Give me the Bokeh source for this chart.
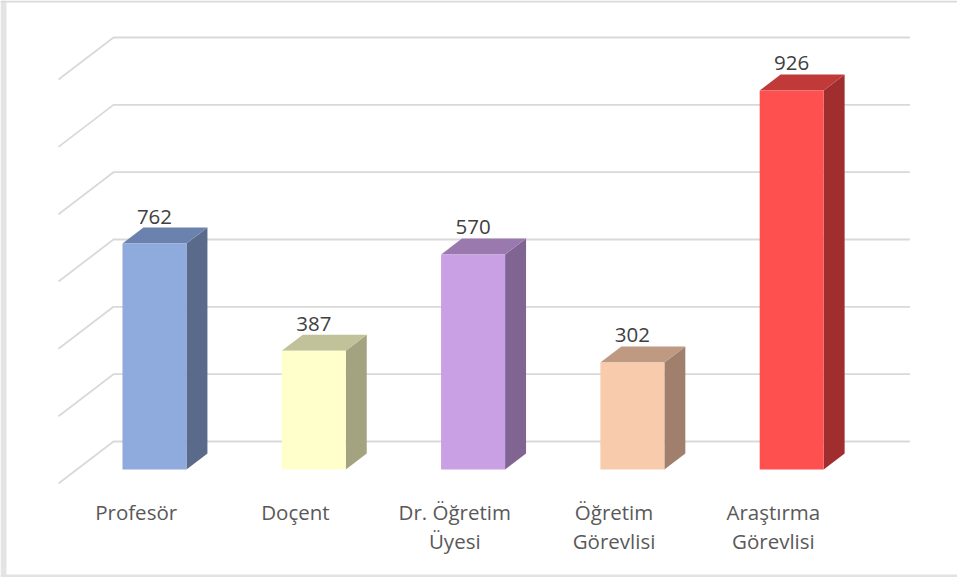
from bokeh.plotting import figure
from bokeh.models import Range1d, BoxAnnotation
from bokeh.core.properties import value
from bokeh.embed import file_html
from bokeh.resources import INLINE

# ---- data ----
categories = ["Profesör", "Doçent", "Dr. Öğretim\nÜyesi", "Öğretim\nGörevlisi", "Araştırma\nGörevlisi"]
bar_values = [671, 353, 639, 318, 1126]          # bar heights as drawn (hidden value axis)
label_values = ["762", "387", "570", "302", "926"]  # data labels as printed
grid_values = [0, 200, 400, 600, 800, 1000, 1200]

front_colors = ["#8FAADC", "#FFFFCC", "#C9A0E3", "#F8CBAD", "#FF5050"]
side_colors = ["#5A6A8A", "#A3A380", "#806491", "#A0806C", "#A02E2E"]
top_colors = ["#6C82AE", "#C2C29A", "#9A7AAE", "#BF9981", "#C03A3A"]

# ---- layout constants ----
W, H = 957, 577
U_PX = 159.3          # px per category
V_PX = 67.33 / 200    # px per value unit
ORIGIN_X = 113        # canvas px of back-wall left edge
BASE_Y = 441          # canvas px of back-wall baseline
DEPTH_X = 55 / U_PX
DEPTH_Y = 42 / V_PX
Z_FRONT = 28 / 42
Z_BACK = 12 / 42
BAR_W = 64 / U_PX
BAR_SHIFT = -2 / U_PX

p = figure(width=W, height=H, output_backend="svg", toolbar_location=None,
           x_range=Range1d(-ORIGIN_X / U_PX, (W - ORIGIN_X) / U_PX),
           y_range=Range1d(-(H - BASE_Y) / V_PX, BASE_Y / V_PX),
           min_border=0)
p.axis.visible = False
p.grid.visible = False
p.outline_line_color = None
p.background_fill_color = "white"
p.border_fill_color = "white"

# chart-area frame decorations (screen units)
p.add_layout(BoxAnnotation(left=0, right=6, top=0, bottom=H, left_units="screen", right_units="screen",
                           top_units="screen", bottom_units="screen",
                           fill_color="#E4E4E4", fill_alpha=1, line_color=None))
p.add_layout(BoxAnnotation(left=0, right=W, top=H - 2, bottom=H, left_units="screen", right_units="screen",
                           top_units="screen", bottom_units="screen",
                           fill_color="#D9D9D9", fill_alpha=1, line_color=None))
p.add_layout(BoxAnnotation(left=0, right=W, top=0, bottom=3, left_units="screen", right_units="screen",
                           top_units="screen", bottom_units="screen",
                           fill_color="#E2E2E2", fill_alpha=1, line_color=None))


def proj(u, v, z):
    return u - z * DEPTH_X, v - z * DEPTH_Y


# gridlines: back wall + side wall
n = len(categories)
gx, gy = [], []
for g in grid_values:
    x0, y0 = proj(0, g, 1)
    gx.append([x0, 0, n])
    gy.append([y0, g, g])
p.multi_line(gx, gy, line_color="#D9D9D9", line_width=1.8)

# bars
fx, fy, sx, sy, tx, ty = [], [], [], [], [], []
for i, v in enumerate(bar_values):
    c = i + 0.5 + BAR_SHIFT
    L, R = c - BAR_W / 2, c + BAR_W / 2
    Lf, b_f = proj(L, 0, Z_FRONT)
    Rf, _ = proj(R, 0, Z_FRONT)
    _, t_f = proj(L, v, Z_FRONT)
    Lb, b_b = proj(L, 0, Z_BACK)
    Rb, _ = proj(R, 0, Z_BACK)
    _, t_b = proj(L, v, Z_BACK)
    fx.append([Lf, Rf, Rf, Lf]); fy.append([b_f, b_f, t_f, t_f])
    sx.append([Rf, Rb, Rb, Rf]); sy.append([b_f, b_b, t_b, t_f])
    tx.append([Lf, Rf, Rb, Lb]); ty.append([t_f, t_f, t_b, t_b])

p.patches(sx, sy, fill_color=side_colors, line_color=None)
p.patches(tx, ty, fill_color=top_colors, line_color=None)
p.patches(fx, fy, fill_color=front_colors, line_color=None)

# data labels
lx = [proj(i + 0.5 + BAR_SHIFT, 0, Z_FRONT)[0] for i in range(n)]
ly = [proj(0, v, Z_BACK)[1] for v in bar_values]
p.text(lx, ly, text=label_values, text_font=value("Open Sans"), text_font_size="20.5px",
       text_color="#404040", text_align="center", text_baseline="alphabetic", y_offset=-11)

# category labels (line by line)
for k in range(2):
    xs, ys, ts = [], [], []
    for i, cat in enumerate(categories):
        lines = cat.split("\n")
        if k < len(lines):
            x, y = proj(i + 0.5 + BAR_SHIFT, 0, 1)
            xs.append(x); ys.append(y); ts.append(lines[k])
    p.text(xs, ys, text=ts, text_font=value("Open Sans"), text_font_size="20.5px",
           text_color="#595959", text_align="center", text_baseline="alphabetic",
           y_offset=28 + 29 * k)

open("out.html", "w").write(file_html(p, INLINE))
